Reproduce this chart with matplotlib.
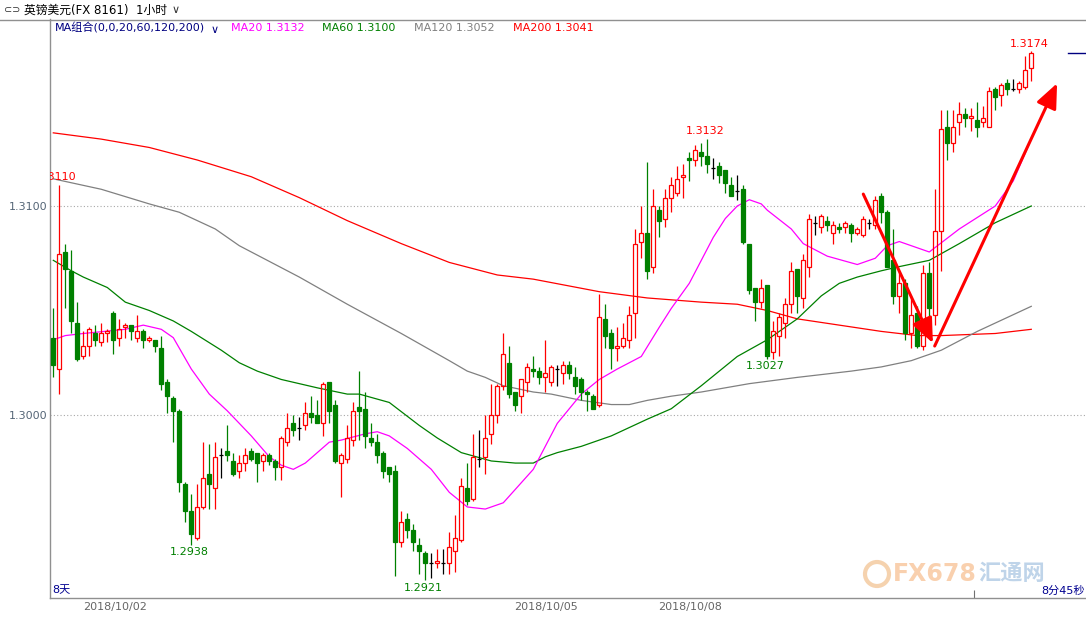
import matplotlib
matplotlib.use('Agg')
import matplotlib.pyplot as plt
import matplotlib.patches as mpatches
import numpy as np

plt.rcParams['font.family'] = ['DejaVu Sans', 'Noto Sans CJK SC']

# GBP/USD 1h candles
opens = [1.3037, 1.3022, 1.3078, 1.3069, 1.3044, 1.3028, 1.3033, 1.3039, 1.3035, 1.3039,
         1.3049, 1.3037, 1.3042, 1.3043, 1.3037, 1.3040, 1.3036, 1.3036, 1.3032, 1.3016,
         1.3008, 1.3002, 1.2967, 1.2954, 1.2941, 1.2956, 1.2972, 1.2965, 1.2981, 1.2983,
         1.2978, 1.2973, 1.2977, 1.2983, 1.2982, 1.2978, 1.2981, 1.2978, 1.2975, 1.2987,
         1.2996, 1.2994, 1.2995, 1.3001, 1.3000, 1.2996, 1.3016, 1.3005, 1.2977, 1.2979,
         1.2988, 1.3004, 1.3003, 1.2989, 1.2987, 1.2982, 1.2975, 1.2973, 1.2939, 1.2950,
         1.2945, 1.2938, 1.2934, 1.2929, 1.2929, 1.2929, 1.2929, 1.2935, 1.2940, 1.2965,
         1.2960, 1.2979, 1.2980, 1.2991, 1.3000, 1.3014, 1.3025, 1.3011, 1.3009, 1.3016,
         1.3022, 1.3021, 1.3018, 1.3016, 1.3022, 1.3020, 1.3024, 1.3018, 1.3017, 1.3011,
         1.3009, 1.3005, 1.3046, 1.3039, 1.3032, 1.3033, 1.3036, 1.3049, 1.3083, 1.3087,
         1.3071, 1.3098, 1.3094, 1.3104, 1.3106, 1.3114, 1.3123, 1.3122, 1.3126, 1.3124,
         1.3118, 1.3119, 1.3117, 1.3110, 1.3107, 1.3108, 1.3082, 1.3061, 1.3054, 1.3062,
         1.3030, 1.3038, 1.3044, 1.3053, 1.3070, 1.3056, 1.3071, 1.3092, 1.3090, 1.3093,
         1.3087, 1.3090, 1.3090, 1.3091, 1.3087, 1.3086, 1.3092, 1.3091, 1.3105, 1.3097,
         1.3074, 1.3057, 1.3063, 1.3039, 1.3049, 1.3033, 1.3068, 1.3048, 1.3088, 1.3138,
         1.3130, 1.3140, 1.3144, 1.3142, 1.3141, 1.3140, 1.3138, 1.3156, 1.3153, 1.3159,
         1.3156, 1.3156, 1.3157, 1.3166]
highs = [1.3051, 1.3110, 1.3082, 1.3079, 1.3054, 1.3040, 1.3042, 1.3043, 1.3044, 1.3041,
         1.3050, 1.3046, 1.3044, 1.3043, 1.3048, 1.3041, 1.3038, 1.3036, 1.3038, 1.3017,
         1.3009, 1.3003, 1.2968, 1.2962, 1.2967, 1.2987, 1.2986, 1.2987, 1.2984, 1.2995,
         1.2982, 1.2981, 1.2984, 1.2984, 1.2982, 1.2982, 1.2982, 1.2979, 1.2990, 1.3001,
         1.3000, 1.2999, 1.3006, 1.3009, 1.3007, 1.3016, 1.3016, 1.3007, 1.2982, 1.2995,
         1.3006, 1.3021, 1.3011, 1.2996, 1.2991, 1.2983, 1.2975, 1.2976, 1.2954, 1.2953,
         1.2948, 1.2941, 1.2935, 1.2934, 1.2936, 1.2936, 1.2944, 1.2952, 1.2970, 1.2977,
         1.2991, 1.2993, 1.3000, 1.3015, 1.3015, 1.3039, 1.3033, 1.3011, 1.3017, 1.3025,
         1.3028, 1.3023, 1.3036, 1.3024, 1.3024, 1.3026, 1.3026, 1.3023, 1.3018, 1.3012,
         1.3010, 1.3058, 1.3053, 1.3041, 1.3042, 1.3044, 1.3052, 1.3089, 1.3100, 1.3121,
         1.3108, 1.3100, 1.3108, 1.3114, 1.3119, 1.3120, 1.3126, 1.3129, 1.3130, 1.3132,
         1.3123, 1.3121, 1.3117, 1.3114, 1.3115, 1.3110, 1.3082, 1.3061, 1.3065, 1.3062,
         1.3045, 1.3049, 1.3056, 1.3073, 1.3070, 1.3077, 1.3096, 1.3095, 1.3096, 1.3095,
         1.3093, 1.3092, 1.3093, 1.3092, 1.3090, 1.3095, 1.3094, 1.3105, 1.3106, 1.3098,
         1.3089, 1.3069, 1.3065, 1.3057, 1.3052, 1.3072, 1.3073, 1.3108, 1.3146, 1.3146,
         1.3146, 1.3150, 1.3147, 1.3147, 1.3150, 1.3148, 1.3157, 1.3157, 1.3159, 1.3161,
         1.3161, 1.3160, 1.3172, 1.3174]
lows = [1.3018, 1.3010, 1.3051, 1.3039, 1.3026, 1.3027, 1.3028, 1.3033, 1.3033, 1.3035,
        1.3029, 1.3033, 1.3037, 1.3036, 1.3035, 1.3032, 1.3035, 1.3030, 1.3012, 1.3001,
        1.2987, 1.2963, 1.2949, 1.2938, 1.2940, 1.2955, 1.2955, 1.2955, 1.2970, 1.2978,
        1.2971, 1.2970, 1.2973, 1.2978, 1.2968, 1.2973, 1.2976, 1.2969, 1.2969, 1.2985,
        1.2990, 1.2988, 1.2993, 1.2996, 1.2996, 1.2990, 1.2996, 1.2977, 1.2961, 1.2977,
        1.2985, 1.2988, 1.2984, 1.2985, 1.2977, 1.2970, 1.2968, 1.2923, 1.2937, 1.2941,
        1.2935, 1.2924, 1.2921, 1.2922, 1.2927, 1.2924, 1.2924, 1.2925, 1.2939, 1.2957,
        1.2959, 1.2975, 1.2972, 1.2986, 1.2996, 1.3012, 1.3008, 1.3002, 1.3001, 1.3011,
        1.3018, 1.3015, 1.3011, 1.3014, 1.3014, 1.3015, 1.3017, 1.3010, 1.3007, 1.3002,
        1.3003, 1.3004, 1.3032, 1.3022, 1.3026, 1.3032, 1.3032, 1.3037, 1.3075, 1.3065,
        1.3068, 1.3085, 1.3090, 1.3097, 1.3105, 1.3104, 1.3112, 1.3119, 1.3119, 1.3116,
        1.3113, 1.3111, 1.3106, 1.3105, 1.3103, 1.3082, 1.3058, 1.3045, 1.3051, 1.3027,
        1.3027, 1.3028, 1.3037, 1.3049, 1.3049, 1.3051, 1.3066, 1.3086, 1.3087, 1.3088,
        1.3082, 1.3087, 1.3087, 1.3083, 1.3086, 1.3085, 1.3089, 1.3089, 1.3092, 1.3071,
        1.3053, 1.3049, 1.3036, 1.3032, 1.3032, 1.3031, 1.3047, 1.3043, 1.3069, 1.3122,
        1.3126, 1.3134, 1.3138, 1.3136, 1.3133, 1.3138, 1.3138, 1.3146, 1.3148, 1.3153,
        1.3155, 1.3154, 1.3156, 1.3160]
closes = [1.3024, 1.3077, 1.3070, 1.3045, 1.3027, 1.3033, 1.3041, 1.3036, 1.3039, 1.3040,
          1.3036, 1.3041, 1.3043, 1.3040, 1.3040, 1.3036, 1.3037, 1.3033, 1.3015, 1.3009,
          1.3002, 1.2968, 1.2954, 1.2943, 1.2956, 1.2970, 1.2967, 1.2980, 1.2981, 1.2981,
          1.2972, 1.2977, 1.2981, 1.2979, 1.2977, 1.2981, 1.2978, 1.2975, 1.2989, 1.2994,
          1.2993, 1.2994, 1.3001, 1.2999, 1.2996, 1.3015, 1.3002, 1.2978, 1.2981, 1.2989,
          1.3002, 1.3002, 1.2990, 1.2987, 1.2981, 1.2973, 1.2972, 1.2939, 1.2949, 1.2945,
          1.2939, 1.2935, 1.2929, 1.2929, 1.2930, 1.2929, 1.2937, 1.2941, 1.2966, 1.2959,
          1.2980, 1.2979, 1.2989, 1.3000, 1.3014, 1.3029, 1.3010, 1.3005, 1.3017, 1.3023,
          1.3021, 1.3018, 1.3020, 1.3023, 1.3022, 1.3024, 1.3020, 1.3014, 1.3011, 1.3010,
          1.3003, 1.3047, 1.3038, 1.3032, 1.3033, 1.3037, 1.3048, 1.3082, 1.3087, 1.3069,
          1.3100, 1.3093, 1.3104, 1.3110, 1.3113, 1.3115, 1.3122, 1.3127, 1.3124, 1.3120,
          1.3118, 1.3115, 1.3111, 1.3105, 1.3107, 1.3083, 1.3060, 1.3054, 1.3061, 1.3028,
          1.3040, 1.3047, 1.3053, 1.3069, 1.3057, 1.3074, 1.3094, 1.3092, 1.3095, 1.3091,
          1.3091, 1.3089, 1.3092, 1.3087, 1.3089, 1.3094, 1.3092, 1.3103, 1.3097, 1.3071,
          1.3057, 1.3063, 1.3039, 1.3048, 1.3033, 1.3068, 1.3051, 1.3088, 1.3137, 1.3130,
          1.3138, 1.3144, 1.3142, 1.3143, 1.3138, 1.3142, 1.3155, 1.3152, 1.3158, 1.3156,
          1.3156, 1.3159, 1.3165, 1.3173]

# moving averages, sampled by bar index
ma20_x = [0, 2, 5, 12, 15, 18, 20, 23, 26, 29, 33, 36, 38, 40, 42, 46, 48, 52, 54, 56,
          59, 63, 66, 69, 72, 75, 80, 84, 88, 91, 94, 98, 101, 103, 106, 110, 112, 114, 116, 118,
          119, 123, 125, 129, 134, 137, 139, 141, 144, 146, 151, 157, 160, 163]
ma20_y = [1.3036, 1.3038, 1.3039, 1.3041, 1.3043, 1.3041, 1.3037, 1.3022, 1.3010, 1.3002,
          1.2990, 1.2980, 1.2976, 1.2974, 1.2977, 1.2987, 1.2988, 1.2991, 1.2992, 1.2990,
          1.2984, 1.2974, 1.2963, 1.2956, 1.2955, 1.2958, 1.2974, 1.2996, 1.3010, 1.3017,
          1.3022, 1.3028, 1.3042, 1.3051, 1.3063, 1.3085, 1.3094, 1.3100, 1.3103, 1.3101,
          1.3098, 1.3089, 1.3082, 1.3076, 1.3072, 1.3075, 1.3081, 1.3083, 1.3080, 1.3078,
          1.3089, 1.3100, 1.3112, 1.3132]
ma60_x = [0, 3, 5, 9, 12, 16, 20, 23, 28, 31, 34, 38, 41, 44, 49, 51, 56, 61, 64, 68,
          73, 77, 80, 82, 84, 88, 93, 96, 99, 103, 108, 114, 119, 124, 128, 131, 134, 138, 141, 146,
          151, 157, 163]
ma60_y = [1.3074, 1.3069, 1.3066, 1.3061, 1.3054, 1.3050, 1.3045, 1.3040, 1.3031, 1.3025,
          1.3021, 1.3017, 1.3015, 1.3013, 1.3010, 1.3010, 1.3006, 1.2995, 1.2989, 1.2982,
          1.2978, 1.2977, 1.2977, 1.2980, 1.2982, 1.2985, 1.2990, 1.2994, 1.2998, 1.3003,
          1.3014, 1.3028, 1.3036, 1.3046, 1.3057, 1.3063, 1.3066, 1.3069, 1.3071, 1.3074,
          1.3082, 1.3092, 1.3100]
ma120_x = [0, 8, 16, 21, 27, 31, 41, 49, 58, 66, 69, 72, 75, 80, 83, 88, 93, 96, 99, 103,
           108, 116, 124, 133, 138, 143, 148, 154, 163]
ma120_y = [1.3113, 1.3108, 1.3101, 1.3097, 1.3089, 1.3081, 1.3066, 1.3053, 1.3039, 1.3026,
           1.3021, 1.3018, 1.3014, 1.3011, 1.3010, 1.3007, 1.3005, 1.3005, 1.3007, 1.3009,
           1.3011, 1.3015, 1.3018, 1.3021, 1.3023, 1.3026, 1.3031, 1.3040, 1.3052]
ma200_x = [0, 8, 16, 24, 33, 41, 49, 58, 66, 74, 80, 91, 99, 108, 114, 119, 124, 131, 138, 144,
           148, 157, 163]
ma200_y = [1.3135, 1.3132, 1.3128, 1.3122, 1.3114, 1.3104, 1.3093, 1.3082, 1.3073, 1.3067,
           1.3065, 1.3059, 1.3056, 1.3054, 1.3053, 1.3050, 1.3046, 1.3043, 1.3040, 1.3038,
           1.3038, 1.3039, 1.3041]

date_labels = ['2018/10/02', '2018/10/05', '2018/10/08']
date_pos = [4.95, 76.8, 100.8]

RED = '#ff0000'
GREEN = '#008000'
W, H = 1086, 617


def px(x, y):
    # pixel position (from top-left) -> figure fraction
    return x / W, 1 - y / H


fig = plt.figure(figsize=(W / 100, H / 100), dpi=100)
ax = fig.add_axes([50 / W, (H - 598) / H, (W - 50) / W, (598 - 19) / H])

o = np.array(opens)
h = np.array(highs)
l = np.array(lows)
c = np.array(closes)
x = np.arange(len(o))
up = c > o + 1e-9
dn = c < o - 1e-9
fl = ~(up | dn)

# moving averages
ax.plot(ma200_x, ma200_y, color=RED, lw=0.9, zorder=2)
ax.plot(ma120_x, ma120_y, color='#808080', lw=0.9, zorder=2)
ax.plot(ma60_x, ma60_y, color=GREEN, lw=0.9, zorder=2)
ax.plot(ma20_x, ma20_y, color='#ff00ff', lw=0.9, zorder=2)

# wicks
ax.vlines(x[up], c[up], h[up], color=RED, lw=0.9, zorder=3)
ax.vlines(x[up], l[up], o[up], color=RED, lw=0.9, zorder=3)
ax.vlines(x[dn], o[dn], h[dn], color=GREEN, lw=0.9, zorder=3)
ax.vlines(x[dn], l[dn], c[dn], color=GREEN, lw=0.9, zorder=3)
ax.vlines(x[fl], l[fl], h[fl], color='black', lw=0.9, zorder=3)
ax.hlines(o[fl], x[fl] - 0.35, x[fl] + 0.35, color='black', lw=0.9, zorder=3)

# bodies
ax.bar(x[up], c[up] - o[up], bottom=o[up], width=0.62, facecolor='none',
       edgecolor=RED, linewidth=0.9, zorder=3)
ax.bar(x[dn], o[dn] - c[dn], bottom=c[dn], width=0.62, facecolor=GREEN,
       edgecolor=GREEN, linewidth=0.9, zorder=3)

# grid
for lev in [1.3000, 1.3100]:
    ax.axhline(lev, color='#a8a8a8', lw=0.8, ls=(0, (1, 2)), zorder=1)

# high / low labels
i_hi = [1, 109, 163]
for i in i_hi:
    ax.annotate(f'{h[i]:.4f}', (i - 0.4, h[i]), xytext=(0, 2), textcoords='offset points',
                ha='center', va='bottom', color=RED, fontsize=8, annotation_clip=False,
                clip_on=True)
i_lo = [23, 62, 119]
for i in i_lo:
    ax.annotate(f'{l[i]:.4f}', (i - 0.4, l[i]), xytext=(0, -2), textcoords='offset points',
                ha='center', va='top', color=GREEN, fontsize=8)

# arrows drawn on the chart
ax.annotate('', xy=(146.6, 1.30344), xytext=(135.0, 1.31057),
            arrowprops=dict(arrowstyle='-|>,head_length=0.75,head_width=0.32', color=RED,
                            lw=2.2, shrinkA=0, shrinkB=0, mutation_scale=20), zorder=6)
ax.annotate('', xy=(167.3, 1.31587), xytext=(146.9, 1.3033),
            arrowprops=dict(arrowstyle='-|>,head_length=0.75,head_width=0.32', color=RED,
                            lw=2.2, shrinkA=0, shrinkB=0, mutation_scale=20), zorder=6)

# last price marker on the right edge
ax.plot([169.2, 172.1], [c[-1], c[-1]], color='#000080', lw=1.0, clip_on=False)

ax.set_xlim(-0.55, 172.12)
ax.set_ylim(1.3 - 183 / 20900, 1.3 + 396 / 20900)

for s in ['top', 'right']:
    ax.spines[s].set_visible(False)
for s in ['left', 'bottom']:
    ax.spines[s].set_color('#909090')
    ax.spines[s].set_linewidth(1.0)

ax.set_yticks([1.3000, 1.3100])
ax.set_yticklabels(['1.3000', '1.3100'])
ax.tick_params(axis='y', length=0, pad=1.5, labelsize=8, labelcolor='#556677')
ax.set_xticks([153.5])
ax.set_xticklabels([])
ax.tick_params(axis='x', direction='in', length=6, color='#707070')

for lab, pos in zip(date_labels, date_pos):
    ax.text(pos, -0.0155, lab, transform=ax.get_xaxis_transform(), ha='left', va='center',
            fontsize=8, color='#666666')

# header
fig.add_artist(plt.Line2D([0, 1], [px(0, 19.5)[1]] * 2, color='#909090', lw=1.0))
fig.text(*px(4, 10.5), '⊂⊃', fontsize=7, color='#333333', va='center', ha='left')
fig.text(*px(24, 10.5), '英镑美元(FX 8161)  1小时', fontsize=8.5, color='black',
         va='center', ha='left')
fig.text(*px(172, 10), '∨', fontsize=8, color='#333333', va='center', ha='left')

fig.text(*px(55, 28), 'MA组合(0,0,20,60,120,200)', fontsize=8, color='#000080',
         va='center', ha='left')
fig.text(*px(211, 30), '∨', fontsize=8, color='#000080', va='center', ha='left')
fig.text(*px(230.5, 28), 'MA20 1.3132', fontsize=8, color='#ff00ff', va='center', ha='left')
fig.text(*px(322, 28), 'MA60 1.3100', fontsize=8, color=GREEN, va='center', ha='left')
fig.text(*px(414, 28), 'MA120 1.3052', fontsize=8, color='#808080', va='center', ha='left')
fig.text(*px(513, 28), 'MA200 1.3041', fontsize=8, color=RED, va='center', ha='left')

fig.text(*px(52, 590), '8天', fontsize=8, color='#000090', va='center', ha='left')
fig.text(*px(1085, 591), '8分45秒', fontsize=8, color='#000090', va='center', ha='right')

# watermark
fig.add_artist(mpatches.Ellipse(px(877, 574), 24 / W, 24 / H, transform=fig.transFigure,
                                fill=False, edgecolor='#f3c79a', lw=3, alpha=0.8))
fig.text(*px(893, 574), 'FX678', fontsize=17, fontweight='bold', color='#f8c8a0',
         va='center', ha='left', alpha=0.85)
fig.text(*px(978, 574), '汇通网', fontsize=16, fontweight='bold', color='#b4cde6',
         va='center', ha='left', alpha=0.85)

fig.savefig('out.png', dpi=100)
